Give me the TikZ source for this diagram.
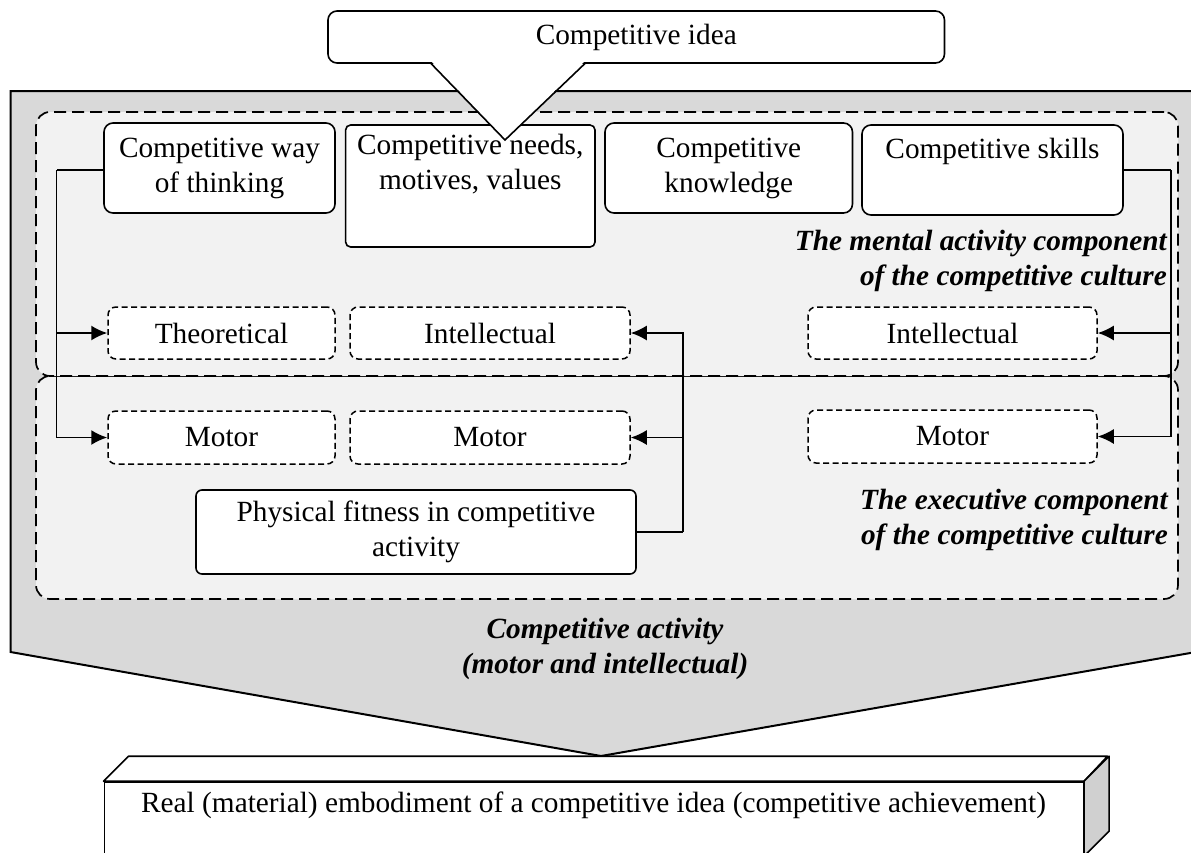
\documentclass[tikz,border=0pt]{standalone}
\usepackage{fontspec}
\setmainfont{Liberation Serif}
\usetikzlibrary{arrows.meta}
\definecolor{grayA}{HTML}{D9D9D9}
\definecolor{grayB}{HTML}{F2F2F2}
\definecolor{grayC}{HTML}{D0D0D0}
\begin{document}
\begin{tikzpicture}[x=1pt,y=-1pt,
 font=\fontsize{29.3}{35}\selectfont,
 solidbox/.style={draw, line width=1.6pt, rounded corners=9pt, fill=white, inner sep=0pt, align=center},
 dashbox/.style={draw, line width=1.5pt, dash pattern=on 6pt off 3.5pt, rounded corners=8pt, fill=white, inner sep=0pt, align=center},
 region/.style={draw, line width=1.7pt, dash pattern=on 12pt off 6pt, rounded corners=14pt, fill=grayB, inner sep=0pt},
 conn/.style={line width=1.8pt},
 arr/.style={conn, -{Latex[length=16pt,width=15pt]}},
 lbl/.style={font=\fontsize{29.3}{35}\selectfont\bfseries\itshape, inner sep=0pt},
 plain/.style={inner sep=0pt, align=center},
]
\path[use as bounding box] (0,0) rectangle (1191,852);
\clip (0,0) rectangle (1191,852);

% big arrow shape
\path[draw, line width=2pt, fill=grayA] (10.5,91) -- (1196,91) -- (1196,652) -- (601,756) -- (10.5,652) -- cycle;

% regions
\node[region, minimum width=1142pt, minimum height=223pt] (exec) at (607,487.5) {};
\node[region, minimum width=1142pt, minimum height=264pt] (mental) at (607,244) {};

% top boxes
\node[solidbox, minimum width=231pt, minimum height=90pt] (way) at (219.5,168) {Competitive way\\of thinking};
\node[solidbox, rounded corners=5pt, minimum width=249.4pt, minimum height=122pt] (needs) at (470.3,186) {};
\node[solidbox, minimum width=247.5pt, minimum height=90pt] (know) at (728.75,168) {Competitive\\knowledge};
\node[solidbox, minimum width=261pt, minimum height=90pt] (skills) at (992.5,170) {};
\node[plain] (skillst) at (992.5,151) {Competitive skills};

% dashed boxes
\node[dashbox, minimum width=227pt, minimum height=52pt] (theo) at (221.5,333) {Theoretical};
\node[dashbox, minimum width=280pt, minimum height=52pt] (intM) at (490,333) {Intellectual};
\node[dashbox, minimum width=227pt, minimum height=53pt] (motL) at (221.5,437.5) {Motor};
\node[dashbox, minimum width=280pt, minimum height=53pt] (motM) at (490,437.5) {Motor};
\node[dashbox, minimum width=289pt, minimum height=52pt] (intR) at (952.5,333) {Intellectual};
\node[dashbox, minimum width=289pt, minimum height=53pt] (motR) at (952.5,436.5) {Motor};

\node[solidbox, rounded corners=6pt, minimum width=440pt, minimum height=84pt] (phys) at (416,532) {Physical fitness in competitive\\activity};

% connectors
\coordinate (jl) at (56.5,170);
\coordinate (jm) at (683,532);
\coordinate (jr) at (1170.7,170);
\draw[conn] (way.west |- jl) -- (jl);
\draw[arr] (jl) |- (theo.west);
\draw[arr] (jl) |- (motL.west);
\draw[conn] (phys.east) -- (jm);
\draw[arr] (jm) |- (intM.east);
\draw[arr] (jm) |- (motM.east);
\draw[conn] (skills.east) -- (jr);
\draw[arr] (jr) |- (intR.east);
\draw[arr] (jr) |- (motR.east);

% labels
\node[lbl, align=right, anchor=east] (mentlbl) at (1167,260.7) {The mental activity component\\of the competitive culture};
\node[lbl, align=right, anchor=east] (execlbl) at (1168,519.7) {The executive component\\of the competitive culture};
\node[lbl, align=center] (actlbl) at (605,649) {Competitive activity\\(motor and intellectual)};

% callout
\node[solidbox, minimum width=616.5pt, minimum height=52pt] (idea) at (636.25,37) {Competitive idea};
\coordinate (tip) at (505,140);
\fill[white] (431.5,61.5) -- (tip) -- (584.5,61.5) -- cycle;
\draw[line width=1.6pt, line join=miter] (430.5,63) -- (tip) -- (585.5,63);
\node[plain] (needst) at (470.3,164) {Competitive needs,\\motives, values};

% bottom 3D box
\node[draw, line width=1.6pt, fill=white, minimum width=979pt, minimum height=76pt, inner sep=0pt] (real) at (593.8,820) {};
\draw[line width=1.6pt, fill=white, line join=round] (real.north west) -- ++(25,-25) -- ++(979,0) -- (real.north east) -- cycle;
\draw[line width=1.6pt, fill=grayC, line join=round] (real.north east) -- ++(25,-25) -- ++(0,75) -- ++(-25,25) -- cycle;
\node[plain] (realt) at (593.5,805) {Real (material) embodiment of a competitive idea (competitive achievement)};
\end{tikzpicture}
\end{document}
